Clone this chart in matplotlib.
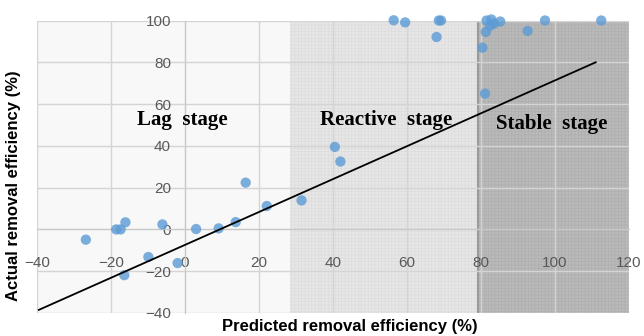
import numpy as np
import matplotlib
matplotlib.use('Agg')
import matplotlib.pyplot as plt

# predicted vs actual removal efficiency (%)
predicted = [-26.8, -18.6, -17.4, -16.1, -16.4, -9.9, -6.1, -2.0, 3.0, 9.1, 13.7, 16.4, 22.1, 31.5,
             40.5, 42.0, 56.4, 59.5, 68.0, 68.6, 69.2,
             80.4, 81.3, 81.5, 82.5, 82.8, 83.5, 85.2, 81.1, 92.6, 97.3, 112.5]
actual = [-4.9, 0.0, 0.0, 3.4, -21.9, -13.2, 2.4, -16.1, 0.2, 0.5, 3.5, 22.4, 11.2, 13.9,
          39.5, 32.5, 100.1, 99.1, 92.1, 100.0, 100.0,
          87.0, 94.5, 100.0, 97.5, 100.5, 98.5, 99.5, 65.0, 95.0, 100.0, 100.0]

# reference line end points
line_x = [-39.5, 111.0]
line_y = [-38.5, 80.0]

stage_names = ['Lag  stage', 'Reactive  stage', 'Stable  stage']
stage_pos = [(-0.7, 52.6), (54.3, 52.6), (99.2, 50.6)]
reactive_span = (28.5, 79.3)
stable_span = (79.3, 120)

xticks = [-40, -20, 0, 20, 40, 60, 80, 100, 120]
yticks = [-40, -20, 0, 20, 40, 60, 80, 100]

plt.rcParams['font.family'] = ['Liberation Sans', 'DejaVu Sans']
plt.rcParams['hatch.linewidth'] = 0.3

fig = plt.figure(figsize=(6.44, 3.36), dpi=100)
ax = fig.add_axes([37/644, 1 - 313/336, 592/644, 292.5/336])
ax.set_facecolor('#f8f8f8')
ax.set_xlim(-40, 120)
ax.set_ylim(-40, 100)

ax.axvspan(*reactive_span, facecolor='#e6e6e6', edgecolor='#d9d9d9', hatch='+++++', lw=0, zorder=0)
ax.axvspan(*stable_span, facecolor='#b9b9b9', edgecolor='#aaaaaa', hatch='+++++', lw=0, zorder=0)
ax.axvline(stable_span[0], color='#9a9a9a', lw=1.5, zorder=0.5)

ax.set_xticks(xticks)
ax.set_yticks(yticks)
ax.grid(True, color='#d4d4d4', lw=1)
ax.set_axisbelow(True)

for s in ['top', 'right']:
    ax.spines[s].set_visible(False)
ax.spines['bottom'].set_position(('data', 0))
ax.spines['left'].set_position(('data', 0))
ax.spines['bottom'].set_color('#c8c8c8')
ax.spines['left'].set_color('#c8c8c8')
ax.tick_params(length=0, labelsize=11, labelcolor='#595959')
ax.tick_params(axis='x', pad=19)
ax.tick_params(axis='y', pad=10)
ax.plot([120, 120], [-40, 100], color='#d0d0d0', lw=1)

ax.scatter(predicted, actual, s=55, color='#5b9bd5', alpha=0.8, edgecolors='none', zorder=3, clip_on=False)
ax.plot(line_x, line_y, color='black', lw=1.3, zorder=4)

for name, (x, y) in zip(stage_names, stage_pos):
    ax.text(x, y, name, fontsize=15, fontweight='bold', family='Liberation Serif',
            ha='center', va='center', zorder=5)

ax.set_xlabel('Predicted removal efficiency (%)', fontsize=12, fontweight='bold')
ax.set_ylabel('Actual removal efficiency (%)', fontsize=12, fontweight='bold')
ax.xaxis.set_label_coords(0.529, -0.02)
ax.yaxis.set_label_coords(-0.027, 0.434)

fig.savefig('out.png', dpi=100)
